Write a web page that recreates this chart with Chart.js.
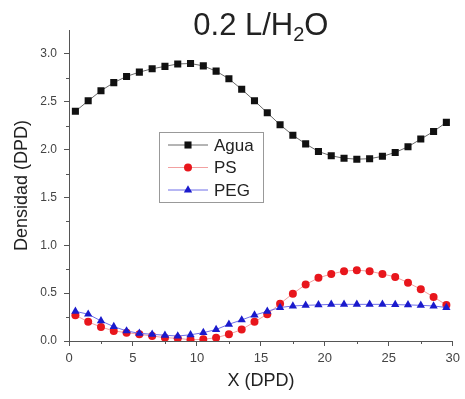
<!DOCTYPE html>
<html>
<head>
<meta charset="utf-8">
<script src="https://cdn.jsdelivr.net/npm/chart.js@4/dist/chart.umd.min.js"></script>
<style>
    html, body { margin: 0; padding: 0; background: #fff; }
    #wrap { width: 465px; height: 399px; }
</style>
</head>
<body>
<div id="wrap"><canvas id="densityChart" width="465" height="399"></canvas></div>
<script>
// positions along X (DPD)
const xValues = [0.5, 1.5, 2.5, 3.5, 4.5, 5.5, 6.5, 7.5, 8.5, 9.5, 10.5, 11.5, 12.5, 13.5, 14.5,
    15.5, 16.5, 17.5, 18.5, 19.5, 20.5, 21.5, 22.5, 23.5, 24.5, 25.5, 26.5, 27.5, 28.5, 29.5];

// density profiles
const agua = [2.40, 2.51, 2.615, 2.70, 2.765, 2.81, 2.845, 2.87, 2.895, 2.90, 2.875, 2.82, 2.74, 2.63, 2.51,
    2.385, 2.26, 2.15, 2.06, 1.98, 1.935, 1.91, 1.90, 1.905, 1.93, 1.97, 2.03, 2.11, 2.19, 2.285];
const ps = [0.27, 0.20, 0.146, 0.105, 0.087, 0.07, 0.052, 0.035, 0.028, 0.013, 0.017, 0.035, 0.07, 0.12, 0.20,
    0.28, 0.39, 0.495, 0.59, 0.66, 0.70, 0.73, 0.74, 0.73, 0.70, 0.67, 0.61, 0.54, 0.46, 0.377];
const peg = [0.31, 0.28, 0.21, 0.15, 0.105, 0.08, 0.07, 0.06, 0.052, 0.065, 0.087, 0.12, 0.175, 0.22, 0.27,
    0.31, 0.35, 0.366, 0.373, 0.377, 0.383, 0.383, 0.383, 0.383, 0.383, 0.38, 0.377, 0.373, 0.366, 0.35];

const seriesNames = ['Agua', 'PS', 'PEG'];
const titleMain = '0.2 L/H';
const titleSub = '2';
const titleEnd = 'O';

const FONT = '"Liberation Sans", Arial, sans-serif';

function toPoints(values) {
    return values.map((v, i) => ({ x: xValues[i], y: v }));
}

// minor ticks every 2.5 on x and 0.25 on y, drawn outward like the major ones
const minorTicks = {
    id: 'minorTicks',
    afterDraw(chart) {
        const ctx = chart.ctx;
        const xs = chart.scales.x, ys = chart.scales.y;
        const area = chart.chartArea;
        ctx.save();
        ctx.strokeStyle = '#555';
        ctx.lineWidth = 1;
        ctx.beginPath();
        for (let v = 2.5; v < 30; v += 5) {
            const px = Math.round(xs.getPixelForValue(v)) + 0.5;
            ctx.moveTo(px, area.bottom);
            ctx.lineTo(px, area.bottom + 3);
        }
        for (let v = 0.25; v < 3.25; v += 0.5) {
            const py = Math.round(ys.getPixelForValue(v)) + 0.5;
            ctx.moveTo(area.left, py);
            ctx.lineTo(area.left - 3, py);
        }
        ctx.stroke();
        ctx.restore();
    }
};

// title with subscript
const subTitle = {
    id: 'subTitle',
    afterDraw(chart) {
        const ctx = chart.ctx;
        const area = chart.chartArea;
        ctx.save();
        ctx.fillStyle = '#222';
        ctx.textBaseline = 'alphabetic';
        const big = '31px ' + FONT, small = '20px ' + FONT;
        ctx.font = big;
        const w1 = ctx.measureText(titleMain).width;
        const w3 = ctx.measureText(titleEnd).width;
        ctx.font = small;
        const w2 = ctx.measureText(titleSub).width;
        let x = (area.left + area.right) / 2 - (w1 + w2 + w3) / 2;
        const base = 35;
        ctx.font = big;
        ctx.fillText(titleMain, x, base);
        x += w1;
        ctx.font = small;
        ctx.fillText(titleSub, x, base + 6);
        x += w2;
        ctx.font = big;
        ctx.fillText(titleEnd, x, base);
        ctx.restore();
    }
};

// boxed legend inside the plot
const boxLegend = {
    id: 'boxLegend',
    afterDraw(chart) {
        const ctx = chart.ctx;
        ctx.save();
        ctx.strokeStyle = '#999';
        ctx.lineWidth = 1;
        ctx.strokeRect(159.5, 132.5, 104, 70);
        const rows = [145, 167.5, 190];
        chart.data.datasets.forEach((ds, i) => {
            const y = rows[i];
            ctx.strokeStyle = ds.borderColor;
            ctx.lineWidth = 1;
            ctx.beginPath();
            ctx.moveTo(168, y);
            ctx.lineTo(208, y);
            ctx.stroke();
            ctx.fillStyle = ds.pointBackgroundColor;
            ctx.strokeStyle = ds.pointBorderColor;
            Chart.helpers.drawPoint(ctx, {
                pointStyle: ds.pointStyle, radius: ds.pointRadius, rotation: 0, borderWidth: 0
            }, 188, y);
            ctx.fillStyle = '#222';
            ctx.font = '17px ' + FONT;
            ctx.textBaseline = 'middle';
            ctx.fillText(ds.label, 214, y + 1);
        });
        ctx.restore();
    }
};

const ctx = document.getElementById('densityChart').getContext('2d');
new Chart(ctx, {
    type: 'line',
    data: {
        datasets: [
            {
                label: seriesNames[0],
                data: toPoints(agua),
                borderColor: '#6a6a6a',
                borderWidth: 1,
                pointStyle: 'rect',
                pointRadius: 5,
                pointBackgroundColor: '#111',
                pointBorderColor: '#111',
                pointBorderWidth: 0,
                order: 2
            },
            {
                label: seriesNames[1],
                data: toPoints(ps),
                borderColor: '#f2a0a0',
                borderWidth: 1,
                pointStyle: 'circle',
                pointRadius: 4,
                pointBackgroundColor: '#e8161c',
                pointBorderColor: '#e8161c',
                pointBorderWidth: 0,
                order: 1
            },
            {
                label: seriesNames[2],
                data: toPoints(peg),
                borderColor: '#6f6fe8',
                borderWidth: 1,
                pointStyle: 'triangle',
                pointRadius: 4.8,
                pointBackgroundColor: '#1a1acc',
                pointBorderColor: '#1a1acc',
                pointBorderWidth: 0,
                order: 0
            }
        ]
    },
    options: {
        responsive: false,
        animation: false,
        layout: { padding: { left: 0, top: 30, right: 11, bottom: 0 } },
        plugins: {
            legend: { display: false },
            tooltip: { enabled: false }
        },
        scales: {
            x: {
                type: 'linear',
                min: 0,
                max: 30,
                afterFit(scale) { scale.height = 58; },
                grid: { display: true, drawOnChartArea: false, drawTicks: true, tickLength: 5, tickColor: '#555' },
                border: { display: true, color: '#555', width: 1 },
                ticks: {
                    stepSize: 5,
                    padding: 5,
                    color: '#444',
                    font: { family: FONT, size: 13 },
                    maxRotation: 0
                },
                title: {
                    display: true,
                    text: 'X (DPD)',
                    color: '#222',
                    font: { family: FONT, size: 18 },
                    padding: { top: 0, bottom: 7 }
                }
            },
            y: {
                min: 0,
                max: 3.25,
                afterFit(scale) { scale.width = 69; },
                grid: {
                    display: true, drawOnChartArea: false, drawTicks: true, tickLength: 5,
                    tickColor: c => (Math.abs(c.tick.value * 2 - Math.round(c.tick.value * 2)) < 1e-6 ? '#555' : 'rgba(0,0,0,0)')
                },
                border: { display: true, color: '#555', width: 1 },
                ticks: {
                    stepSize: 0.5,
                    padding: 7,
                    color: '#444',
                    font: { family: FONT, size: 12 },
                    callback: v => (Math.abs(v * 2 - Math.round(v * 2)) < 1e-6 ? v.toFixed(1) : '')
                },
                title: {
                    display: true,
                    text: 'Densidad (DPD)',
                    color: '#222',
                    font: { family: FONT, size: 18 },
                    padding: { top: 11, bottom: 0 }
                }
            }
        }
    },
    plugins: [minorTicks, subTitle, boxLegend]
});
</script>
</body>
</html>
